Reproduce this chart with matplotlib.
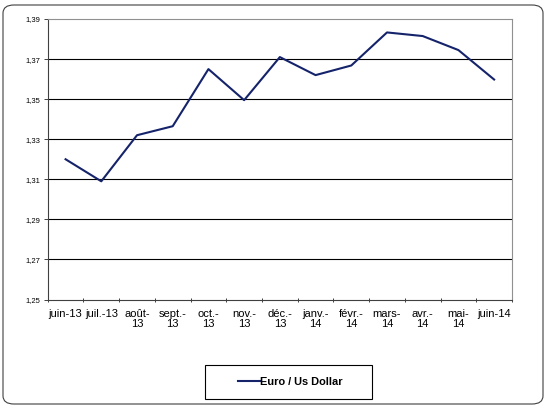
import matplotlib
matplotlib.use("Agg")
import matplotlib.pyplot as plt
from matplotlib.patches import FancyBboxPatch, Rectangle
import numpy as np

plt.rcParams['font.family'] = ['Liberation Sans', 'DejaVu Sans']

categories = ["juin-13", "juil.-13", "août-\n13", "sept.-\n13", "oct.-\n13", "nov.-\n13",
              "déc.-\n13", "janv.-\n14", "févr.-\n14", "mars-\n14", "avr.-\n14", "mai-\n14", "juin-14"]
values = [1.320, 1.309, 1.332, 1.3365, 1.365, 1.3495, 1.371, 1.362, 1.3668, 1.3833, 1.3815, 1.3745, 1.3598]
yticks = [1.25, 1.27, 1.29, 1.31, 1.33, 1.35, 1.37, 1.39]
series_name = "Euro / Us Dollar"

fig = plt.figure(figsize=(5.46, 4.08), dpi=100)
ax = fig.add_axes([0.0874, 0.2659, 0.8503, 0.6875])

# outer rounded frame
frame = FancyBboxPatch((3/546, 4/408), 540/546, 399/408,
                       boxstyle="round,pad=0,rounding_size=0.02",
                       transform=fig.transFigure, facecolor='none',
                       edgecolor='#404040', linewidth=0.8, zorder=0)
fig.patches.append(frame)

# legend frame
legbox = Rectangle((205/546, 1 - 399/408), 167/546, 34/408, transform=fig.transFigure,
                   facecolor='white', edgecolor='black', linewidth=0.8, zorder=0)
fig.patches.append(legbox)

x = np.arange(len(categories))
line, = ax.plot(x, values, color='#15236B', linewidth=1.5, label=series_name, zorder=3)

ax.set_ylim(1.25, 1.39)
ax.set_xlim(-0.5, len(categories) - 0.5)
ax.set_yticks(yticks)
ax.set_yticklabels([f"{v:.2f}".replace('.', ',') for v in yticks], fontsize=5.5)
for v in yticks[1:-1]:
    ax.axhline(v, color='black', linewidth=0.8, zorder=1)

ax.set_xticks(np.arange(len(categories) + 1) - 0.5)
ax.set_xticklabels([])
ax.set_xticks(x, minor=True)
ax.set_xticklabels(categories, minor=True, fontsize=8, linespacing=1.1)
ax.tick_params(axis='x', which='minor', length=0, pad=6.5)
ax.tick_params(axis='x', which='major', length=3, width=0.7, color='#404040', direction='inout')
ax.tick_params(axis='y', length=3, width=0.7, color='#404040', pad=2)

for side in ['left', 'bottom']:
    ax.spines[side].set_color('#404040')
    ax.spines[side].set_linewidth(0.8)
for side in ['top', 'right']:
    ax.spines[side].set_color('#909090')
    ax.spines[side].set_linewidth(0.8)

leg = fig.legend(handles=[line], loc='center', bbox_to_anchor=(290/546, 1 - 382/408),
                 frameon=False, prop={'size': 7.9, 'weight': 'bold'},
                 handlelength=2.0, handletextpad=0.0, borderpad=0.3, borderaxespad=0)

fig.savefig("out.png", dpi=100)
